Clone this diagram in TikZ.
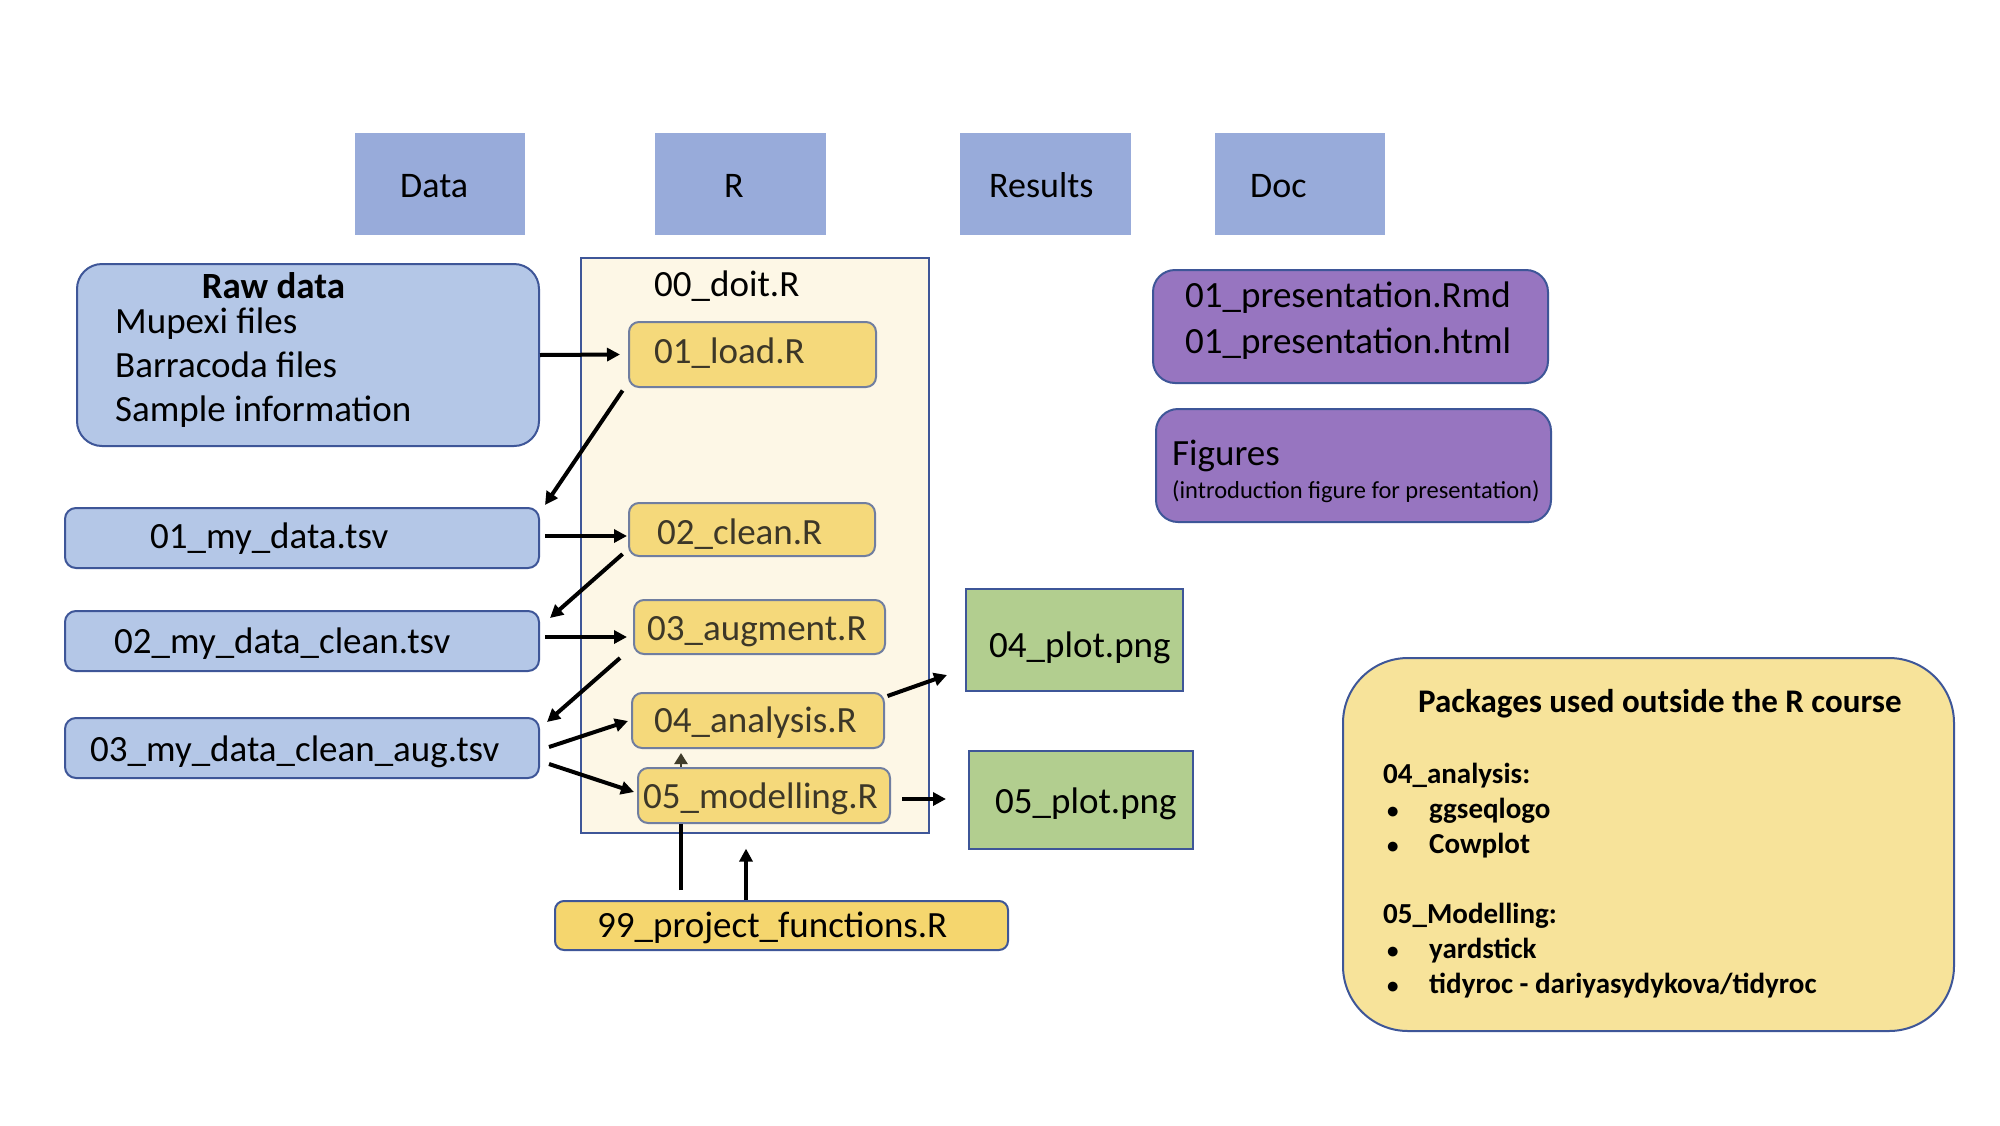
\documentclass[tikz,border=0pt]{standalone}
\usepackage{fontspec}
\setmainfont{Carlito}
\usetikzlibrary{arrows.meta,calc}
\newcommand\myfs[1]{\fontsize{#1pt}{#1pt}\selectfont}
\newcommand\pkbul{\hspace*{4pt}\makebox[42pt][l]{\myfs{23}•}}
\definecolor{hdrc}{RGB}{152,171,218}
\definecolor{datafill}{RGB}{180,199,231}
\definecolor{edgeblue}{RGB}{62,86,152}
\definecolor{goldfill}{RGB}{245,217,123}
\definecolor{goldedge}{RGB}{112,126,160}
\definecolor{pffill}{RGB}{245,214,110}
\definecolor{creamfill}{RGB}{253,247,230}
\definecolor{greenfill}{RGB}{178,206,143}
\definecolor{purplefill}{RGB}{151,117,192}
\definecolor{pkgfill}{RGB}{247,227,154}
\definecolor{scripttext}{RGB}{60,55,40}
\definecolor{smallarrow}{RGB}{64,60,42}
\begin{document}
\begin{tikzpicture}[x=1pt,y=-1pt,
  box/.style={anchor=north west, inner sep=0pt, line width=2pt},
  hdr/.style={box, fill=hdrc, draw=hdrc, line width=0.8pt},
  databox/.style={box, fill=datafill, draw=edgeblue, rounded corners=11pt},
  rcont/.style={box, fill=creamfill, draw=edgeblue, line width=1.6pt},
  scriptbox/.style={box, fill=goldfill, draw=goldedge, rounded corners=10pt},
  pfbox/.style={box, fill=pffill, draw=edgeblue, rounded corners=9pt},
  resbox/.style={box, fill=greenfill, draw=edgeblue},
  docbox/.style={box, fill=purplefill, draw=edgeblue, rounded corners=22pt},
  pkgbox/.style={box, fill=pkgfill, draw=edgeblue, rounded corners=65pt},
  txt/.style={inner sep=0pt, anchor=base west, font=\myfs{37}},
  hdrtxt/.style={txt, font=\myfs{36}},
  stxt/.style={txt, text=scripttext},
  pk/.style={txt, font=\bfseries\myfs{29}},
  arr/.style={line width=4pt, -{Triangle[length=13pt,width=13pt]}},
  plain/.style={line width=4pt}
]
\useasboundingbox[fill=white] (0,0) rectangle (2000,1125);

% header folders
\node[hdr, minimum width=169pt, minimum height=101pt] (hdata) at (355,133) {};
\node[hdr, minimum width=170pt, minimum height=101pt] (hr) at (655,133) {};
\node[hdr, minimum width=170pt, minimum height=101pt] (hres) at (960,133) {};
\node[hdr, minimum width=169pt, minimum height=101pt] (hdoc) at (1215,133) {};
\node[hdrtxt] (hdatat) at (400,197) {Data};
\node[hdrtxt] (hrt) at (724,197) {R};
\node[hdrtxt] (hrest) at (989,197) {Results};
\node[hdrtxt] (hdoct) at (1250,197) {Doc};

% data column
\node[databox, rounded corners=25pt, minimum width=462pt, minimum height=182pt] (raw) at (76,263) {};
\node[txt, anchor=base, font=\bfseries\myfs{37}] (rawt) at (273.5,298) {Raw data};
\node[txt] (raw1) at (115,333) {Mupexi files};
\node[txt] (raw2) at (115,377) {Barracoda files};
\node[txt] (raw3) at (115,421) {Sample information};
\node[databox, minimum width=474pt, minimum height=60pt] (d1) at (64,507) {};
\node[txt] (d1t) at (150,548) {01\_my\_data.tsv};
\node[databox, minimum width=474pt, minimum height=60pt] (d2) at (64,610) {};
\node[txt] (d2t) at (114,653) {02\_my\_data\_clean.tsv};
\node[databox, minimum width=474pt, minimum height=60pt] (d3) at (64,717) {};
\node[txt] (d3t) at (90,761) {03\_my\_data\_clean\_aug.tsv};

% R column
\node[rcont, minimum width=348pt, minimum height=575pt] (rbox) at (580,257) {};
\node[txt] (doit) at (654,296) {00\_doit.R};
\node[scriptbox, minimum width=247pt, minimum height=65pt] (load) at (628,321) {};
\node[stxt] (loadt) at (654,363) {01\_load.R};
\node[scriptbox, minimum width=246pt, minimum height=53pt] (clean) at (628,502) {};
\node[stxt] (cleant) at (657,544) {02\_clean.R};
\node[scriptbox, minimum width=251pt, minimum height=54pt] (aug) at (633,599) {};
\node[stxt] (augt) at (647,640) {03\_augment.R};
\node[scriptbox, minimum width=252pt, minimum height=55pt] (ana) at (631,692) {};
\node[stxt] (anat) at (654,732) {04\_analysis.R};
\node[scriptbox, minimum width=252pt, minimum height=55pt] (mod) at (637,767) {};
\node[stxt] (modt) at (643,808) {05\_modelling.R};
\node[pfbox, minimum width=453pt, minimum height=49pt] (pf) at (554,900) {};
\node[txt] (pft) at (597,937) {99\_project\_functions.R};

% results
\node[resbox, minimum width=217pt, minimum height=102pt] (p4) at (965,588) {};
\node[txt] (p4t) at (989,657) {04\_plot.png};
\node[resbox, minimum width=224pt, minimum height=98pt] (p5) at (968,750) {};
\node[txt] (p5t) at (995,813) {05\_plot.png};

% doc
\node[docbox, minimum width=395pt, minimum height=113pt] (pres) at (1152,269) {};
\node[txt] (pres1) at (1185,307) {01\_presentation.Rmd};
\node[txt] (pres2) at (1185,353) {01\_presentation.html};
\node[docbox, minimum width=395pt, minimum height=113pt] (fig) at (1155,408) {};
\node[txt] (figt) at (1172,465) {Figures};
\node[txt, font=\myfs{24.5}] (figs) at (1172,498) {(introduction figure for presentation)};

% packages
\node[pkgbox, minimum width=611pt, minimum height=373pt] (pkg) at (1342,657) {};
\node[txt, font=\bfseries\myfs{33}] (pkgt) at (1418,712) {Packages used outside the R course};
\node[pk] (pk1) at (1383,783) {04\_analysis:};
\node[pk] (pk2) at (1383,818) {\pkbul ggseqlogo};
\node[pk] (pk3) at (1383,853) {\pkbul Cowplot};
\node[pk] (pk4) at (1383,923) {05\_Modelling:};
\node[pk] (pk5) at (1383,958) {\pkbul yardstick};
\node[pk] (pk6) at (1383,993) {\pkbul tidyroc - dariyasydykova/tidyroc};

% connectors
\coordinate (rtip) at ($(rbox.south west)+(166,15)$);
\draw[arr] (raw.east) -- ($(load.west)+(-8,0)$);
\draw[arr] ($(load.south west)+(-5.4,2.5)$) -- ($(d1.north east)+(5,-2)$);
\draw[arr] ($(d1.east)+(5,-2)$) -- ($(clean.west)+(-1,6.5)$);
\draw[arr] ($(clean.south west)+(-5.4,-3)$) -- ($(d2.north east)+(10,8)$);
\draw[arr] ($(d2.east)+(5,-4)$) -- ($(aug.west)+(-6,10)$);
\draw[arr] ($(aug.south west)+(-13,3)$) -- ($(d3.north east)+(7,5)$);
\draw[arr] ($(d3.east)+(9,-1)$) -- ($(ana.west)+(-3,0.5)$);
\draw[arr] ($(d3.east)+(9,16)$) -- ($(mod.west)+(-3,-3.5)$);
\draw[line width=2.5pt, smallarrow, -{Triangle[length=11pt,width=13pt]}] ($(mod.north west)+(44,0)$) -- ($(ana.south west)+(50,4)$);
\draw[plain] ($(pf.north west)+(127,-10)$) -- ($(mod.south west)+(44,0)$);
\draw[arr] ($(pf.north west)+(192,0)$) -- (rtip);
\draw[arr] ($(ana.north east)+(2.5,4)$) -- ($(p4.south west)+(-18,-17)$);
\draw[arr] ($(mod.east)+(11,3.5)$) -- ($(p5.west)+(-22,-1)$);
\end{tikzpicture}
\end{document}
